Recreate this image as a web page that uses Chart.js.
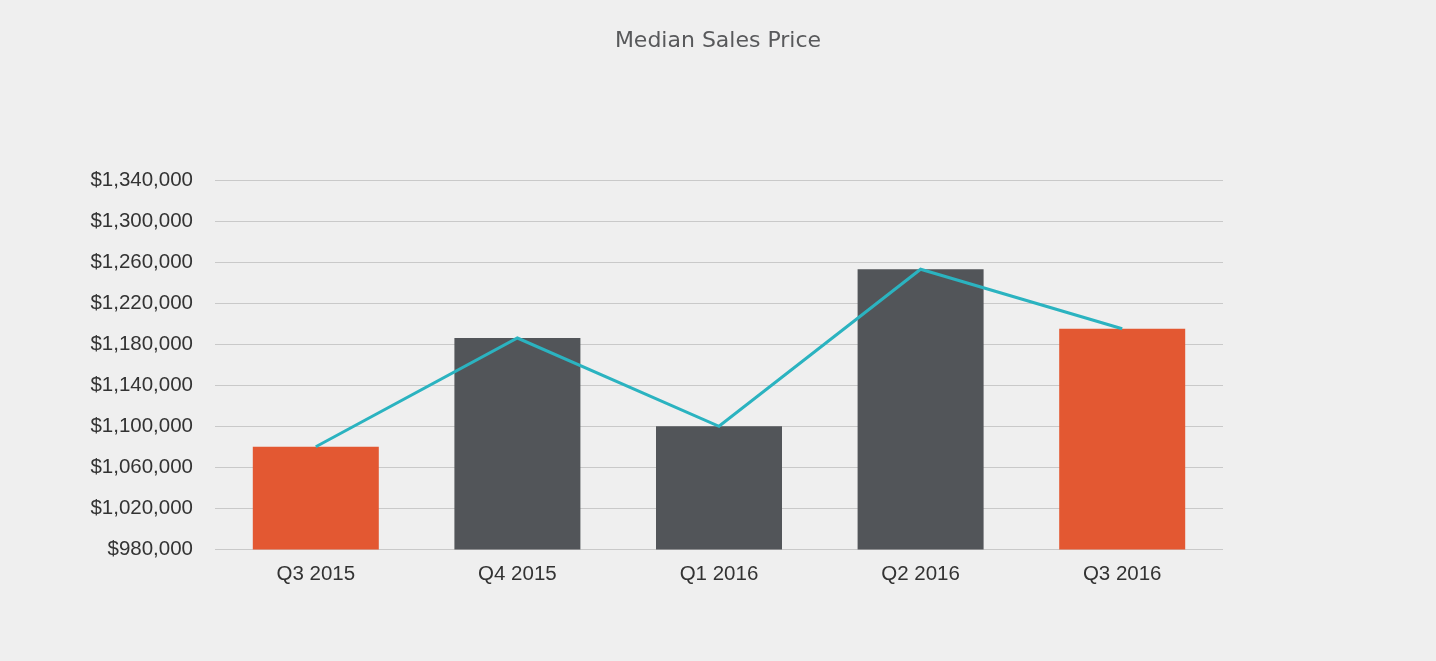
<!DOCTYPE html>
<html>
<head>
<meta charset="utf-8">
<script src="https://cdn.jsdelivr.net/npm/chart.js@4/dist/chart.umd.min.js"></script>
<style>
  html, body { margin: 0; padding: 0; background: #efefef; }
  #wrap { width: 1436px; height: 661px; }
</style>
</head>
<body>
<div id="wrap"><canvas id="myChart"></canvas></div>
<script>
// quarters and median sales prices
let quarters = ["Q3 2015", "Q4 2015", "Q1 2016", "Q2 2016", "Q3 2016"]
let barValues = [1080000, 1186000, 1100000, 1253000, 1195000]
let lineValues = [1080000, 1186000, 1100000, 1253000, 1195000]
let barColors = ["#e35832", "#525559", "#525559", "#525559", "#e35832"]
let yMin = 980000
let yMax = 1340000
let yStep = 40000

let labelFont = { family: "Liberation Sans, Arial, sans-serif", size: 20.5 }

// the title in the picture is centred on the whole page, not on the plot
let centreTitle = {
    id: "centreTitle",
    afterLayout(chart) {
        let t = chart.titleBlock
        if (!t) return
        t.left = 0
        t.right = chart.width
        t.width = chart.width
    }
}

new Chart("myChart", {
    data: {
        labels: quarters,
        datasets: [
            {
                type: "line",
                data: lineValues,
                borderColor: "#2bb3c0",
                borderWidth: 3,
                pointRadius: 0,
                tension: 0,
                order: 0
            },
            {
                type: "bar",
                data: barValues,
                backgroundColor: barColors,
                categoryPercentage: 1,
                barPercentage: 0.625,
                order: 1
            }
        ]
    },
    options: {
        responsive: true,
        maintainAspectRatio: false,
        animation: false,
        layout: {
            padding: { left: 0, right: 213, top: 0, bottom: 61 }
        },
        plugins: {
            legend: { display: false },
            tooltip: { enabled: false },
            title: {
                display: true,
                text: "Median Sales Price",
                color: "#58595b",
                font: { family: "DejaVu Sans, sans-serif", size: 22, weight: "normal" },
                padding: { top: 28, bottom: 125.6 }
            }
        },
        scales: {
            x: {
                grid: { display: false, drawTicks: false },
                border: { display: false },
                ticks: { color: "#333333", font: labelFont, padding: 13 }
            },
            y: {
                min: yMin,
                max: yMax,
                grid: { color: "#c9c9c9", lineWidth: 1, drawTicks: false },
                border: { display: false },
                afterFit: function (scale) { scale.width = 215 },
                ticks: {
                    stepSize: yStep,
                    color: "#333333",
                    font: labelFont,
                    padding: 22,
                    callback: function (v) { return "$" + v.toLocaleString("en-US") }
                }
            }
        }
    },
    plugins: [centreTitle]
});
</script>
</body>
</html>
